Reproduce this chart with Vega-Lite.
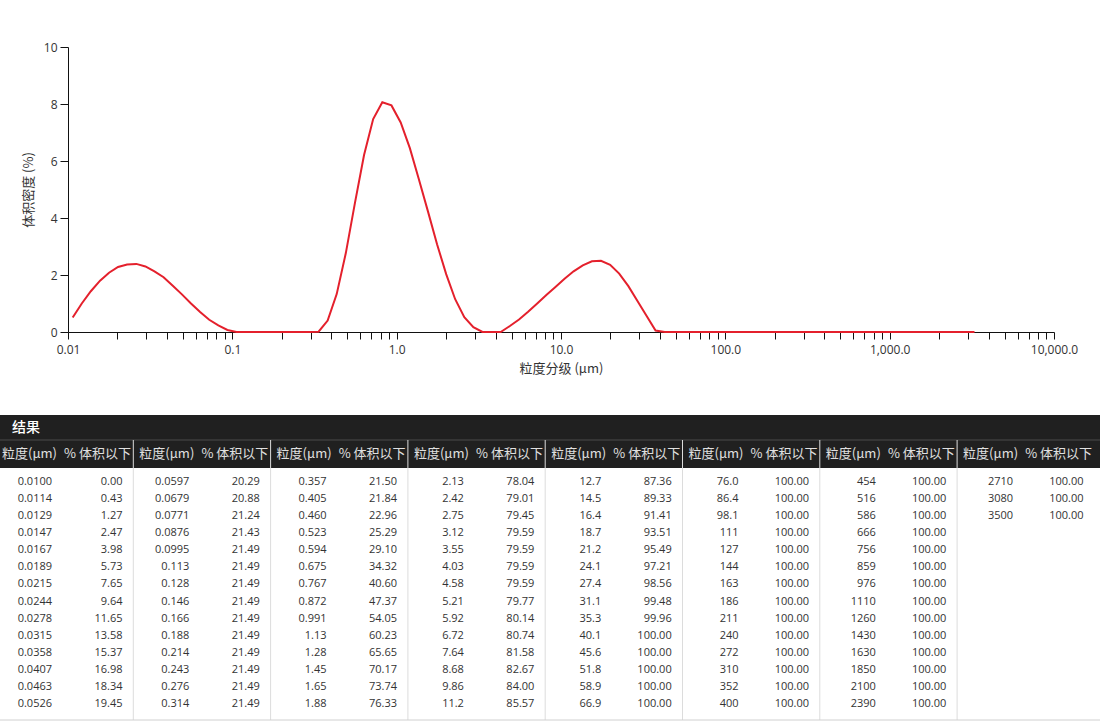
{
  "$schema": "https://vega.github.io/schema/vega-lite/v6.json",
  "width": 1100,
  "height": 722,
  "padding": 0,
  "autosize": {"type": "none"},
  "background": "#ffffff",
  "config": {"view": {"stroke": null}, "axis": {"grid": false}},
  "datasets": {
    "dens": [
      {"d": 0.01068, "v": 0.51}, {"d": 0.01213, "v": 1.00}, {"d": 0.01377, "v": 1.43}, {"d": 0.01567, "v": 1.80},
      {"d": 0.01777, "v": 2.08}, {"d": 0.02016, "v": 2.28}, {"d": 0.02290, "v": 2.37}, {"d": 0.02605, "v": 2.39},
      {"d": 0.02959, "v": 2.30}, {"d": 0.03358, "v": 2.13}, {"d": 0.03817, "v": 1.92}, {"d": 0.04341, "v": 1.62},
      {"d": 0.04935, "v": 1.32}, {"d": 0.05604, "v": 1.00}, {"d": 0.06367, "v": 0.70}, {"d": 0.07235, "v": 0.43},
      {"d": 0.08218, "v": 0.23}, {"d": 0.09336, "v": 0.07}, {"d": 0.1060, "v": 0}, {"d": 0.1203, "v": 0},
      {"d": 0.1367, "v": 0}, {"d": 0.1557, "v": 0}, {"d": 0.1767, "v": 0}, {"d": 0.2006, "v": 0},
      {"d": 0.2280, "v": 0}, {"d": 0.2590, "v": 0}, {"d": 0.2944, "v": 0}, {"d": 0.3348, "v": 0.01},
      {"d": 0.3802, "v": 0.40}, {"d": 0.4316, "v": 1.33}, {"d": 0.4905, "v": 2.77}, {"d": 0.5574, "v": 4.53},
      {"d": 0.6332, "v": 6.21}, {"d": 0.7195, "v": 7.47}, {"d": 0.8178, "v": 8.06}, {"d": 0.9296, "v": 7.95},
      {"d": 1.058, "v": 7.35}, {"d": 1.203, "v": 6.45}, {"d": 1.362, "v": 5.38}, {"d": 1.547, "v": 4.25},
      {"d": 1.761, "v": 3.08}, {"d": 2.001, "v": 2.03}, {"d": 2.270, "v": 1.15}, {"d": 2.580, "v": 0.52},
      {"d": 2.929, "v": 0.17}, {"d": 3.328, "v": 0}, {"d": 3.782, "v": 0}, {"d": 4.296, "v": 0},
      {"d": 4.885, "v": 0.21}, {"d": 5.554, "v": 0.44}, {"d": 6.307, "v": 0.71}, {"d": 7.165, "v": 1.00},
      {"d": 8.143, "v": 1.30}, {"d": 9.251, "v": 1.58}, {"d": 10.51, "v": 1.87}, {"d": 11.93, "v": 2.13},
      {"d": 13.57, "v": 2.34}, {"d": 15.42, "v": 2.48}, {"d": 17.51, "v": 2.50}, {"d": 19.91, "v": 2.36},
      {"d": 22.60, "v": 2.05}, {"d": 25.70, "v": 1.61}, {"d": 29.19, "v": 1.09}, {"d": 33.13, "v": 0.57},
      {"d": 37.62, "v": 0.05}, {"d": 42.76, "v": 0}, {"d": 48.60, "v": 0}, {"d": 55.24, "v": 0},
      {"d": 62.77, "v": 0}, {"d": 71.31, "v": 0}, {"d": 81.03, "v": 0}, {"d": 92.06, "v": 0},
      {"d": 104.3, "v": 0}, {"d": 118.7, "v": 0}, {"d": 135.2, "v": 0}, {"d": 153.2, "v": 0},
      {"d": 174.1, "v": 0}, {"d": 198.1, "v": 0}, {"d": 225.0, "v": 0}, {"d": 255.5, "v": 0},
      {"d": 290.4, "v": 0}, {"d": 330.3, "v": 0}, {"d": 375.2, "v": 0}, {"d": 426.1, "v": 0},
      {"d": 484.0, "v": 0}, {"d": 549.9, "v": 0}, {"d": 624.7, "v": 0}, {"d": 709.6, "v": 0},
      {"d": 805.9, "v": 0}, {"d": 915.6, "v": 0}, {"d": 1041, "v": 0}, {"d": 1183, "v": 0},
      {"d": 1342, "v": 0}, {"d": 1527, "v": 0}, {"d": 1737, "v": 0}, {"d": 1971, "v": 0},
      {"d": 2240, "v": 0}, {"d": 2545, "v": 0}, {"d": 2889, "v": 0}, {"d": 3283, "v": 0}
    ],
    "tbl": [
      {"g": 0, "r": 0, "s": "0.0100", "p": "0.00"}, {"g": 0, "r": 1, "s": "0.0114", "p": "0.43"},
      {"g": 0, "r": 2, "s": "0.0129", "p": "1.27"}, {"g": 0, "r": 3, "s": "0.0147", "p": "2.47"},
      {"g": 0, "r": 4, "s": "0.0167", "p": "3.98"}, {"g": 0, "r": 5, "s": "0.0189", "p": "5.73"},
      {"g": 0, "r": 6, "s": "0.0215", "p": "7.65"}, {"g": 0, "r": 7, "s": "0.0244", "p": "9.64"},
      {"g": 0, "r": 8, "s": "0.0278", "p": "11.65"}, {"g": 0, "r": 9, "s": "0.0315", "p": "13.58"},
      {"g": 0, "r": 10, "s": "0.0358", "p": "15.37"}, {"g": 0, "r": 11, "s": "0.0407", "p": "16.98"},
      {"g": 0, "r": 12, "s": "0.0463", "p": "18.34"}, {"g": 0, "r": 13, "s": "0.0526", "p": "19.45"},
      {"g": 1, "r": 0, "s": "0.0597", "p": "20.29"}, {"g": 1, "r": 1, "s": "0.0679", "p": "20.88"},
      {"g": 1, "r": 2, "s": "0.0771", "p": "21.24"}, {"g": 1, "r": 3, "s": "0.0876", "p": "21.43"},
      {"g": 1, "r": 4, "s": "0.0995", "p": "21.49"}, {"g": 1, "r": 5, "s": "0.113", "p": "21.49"},
      {"g": 1, "r": 6, "s": "0.128", "p": "21.49"}, {"g": 1, "r": 7, "s": "0.146", "p": "21.49"},
      {"g": 1, "r": 8, "s": "0.166", "p": "21.49"}, {"g": 1, "r": 9, "s": "0.188", "p": "21.49"},
      {"g": 1, "r": 10, "s": "0.214", "p": "21.49"}, {"g": 1, "r": 11, "s": "0.243", "p": "21.49"},
      {"g": 1, "r": 12, "s": "0.276", "p": "21.49"}, {"g": 1, "r": 13, "s": "0.314", "p": "21.49"},
      {"g": 2, "r": 0, "s": "0.357", "p": "21.50"}, {"g": 2, "r": 1, "s": "0.405", "p": "21.84"},
      {"g": 2, "r": 2, "s": "0.460", "p": "22.96"}, {"g": 2, "r": 3, "s": "0.523", "p": "25.29"},
      {"g": 2, "r": 4, "s": "0.594", "p": "29.10"}, {"g": 2, "r": 5, "s": "0.675", "p": "34.32"},
      {"g": 2, "r": 6, "s": "0.767", "p": "40.60"}, {"g": 2, "r": 7, "s": "0.872", "p": "47.37"},
      {"g": 2, "r": 8, "s": "0.991", "p": "54.05"}, {"g": 2, "r": 9, "s": "1.13", "p": "60.23"},
      {"g": 2, "r": 10, "s": "1.28", "p": "65.65"}, {"g": 2, "r": 11, "s": "1.45", "p": "70.17"},
      {"g": 2, "r": 12, "s": "1.65", "p": "73.74"}, {"g": 2, "r": 13, "s": "1.88", "p": "76.33"},
      {"g": 3, "r": 0, "s": "2.13", "p": "78.04"}, {"g": 3, "r": 1, "s": "2.42", "p": "79.01"},
      {"g": 3, "r": 2, "s": "2.75", "p": "79.45"}, {"g": 3, "r": 3, "s": "3.12", "p": "79.59"},
      {"g": 3, "r": 4, "s": "3.55", "p": "79.59"}, {"g": 3, "r": 5, "s": "4.03", "p": "79.59"},
      {"g": 3, "r": 6, "s": "4.58", "p": "79.59"}, {"g": 3, "r": 7, "s": "5.21", "p": "79.77"},
      {"g": 3, "r": 8, "s": "5.92", "p": "80.14"}, {"g": 3, "r": 9, "s": "6.72", "p": "80.74"},
      {"g": 3, "r": 10, "s": "7.64", "p": "81.58"}, {"g": 3, "r": 11, "s": "8.68", "p": "82.67"},
      {"g": 3, "r": 12, "s": "9.86", "p": "84.00"}, {"g": 3, "r": 13, "s": "11.2", "p": "85.57"},
      {"g": 4, "r": 0, "s": "12.7", "p": "87.36"}, {"g": 4, "r": 1, "s": "14.5", "p": "89.33"},
      {"g": 4, "r": 2, "s": "16.4", "p": "91.41"}, {"g": 4, "r": 3, "s": "18.7", "p": "93.51"},
      {"g": 4, "r": 4, "s": "21.2", "p": "95.49"}, {"g": 4, "r": 5, "s": "24.1", "p": "97.21"},
      {"g": 4, "r": 6, "s": "27.4", "p": "98.56"}, {"g": 4, "r": 7, "s": "31.1", "p": "99.48"},
      {"g": 4, "r": 8, "s": "35.3", "p": "99.96"}, {"g": 4, "r": 9, "s": "40.1", "p": "100.00"},
      {"g": 4, "r": 10, "s": "45.6", "p": "100.00"}, {"g": 4, "r": 11, "s": "51.8", "p": "100.00"},
      {"g": 4, "r": 12, "s": "58.9", "p": "100.00"}, {"g": 4, "r": 13, "s": "66.9", "p": "100.00"},
      {"g": 5, "r": 0, "s": "76.0", "p": "100.00"}, {"g": 5, "r": 1, "s": "86.4", "p": "100.00"},
      {"g": 5, "r": 2, "s": "98.1", "p": "100.00"}, {"g": 5, "r": 3, "s": "111", "p": "100.00"},
      {"g": 5, "r": 4, "s": "127", "p": "100.00"}, {"g": 5, "r": 5, "s": "144", "p": "100.00"},
      {"g": 5, "r": 6, "s": "163", "p": "100.00"}, {"g": 5, "r": 7, "s": "186", "p": "100.00"},
      {"g": 5, "r": 8, "s": "211", "p": "100.00"}, {"g": 5, "r": 9, "s": "240", "p": "100.00"},
      {"g": 5, "r": 10, "s": "272", "p": "100.00"}, {"g": 5, "r": 11, "s": "310", "p": "100.00"},
      {"g": 5, "r": 12, "s": "352", "p": "100.00"}, {"g": 5, "r": 13, "s": "400", "p": "100.00"},
      {"g": 6, "r": 0, "s": "454", "p": "100.00"}, {"g": 6, "r": 1, "s": "516", "p": "100.00"},
      {"g": 6, "r": 2, "s": "586", "p": "100.00"}, {"g": 6, "r": 3, "s": "666", "p": "100.00"},
      {"g": 6, "r": 4, "s": "756", "p": "100.00"}, {"g": 6, "r": 5, "s": "859", "p": "100.00"},
      {"g": 6, "r": 6, "s": "976", "p": "100.00"}, {"g": 6, "r": 7, "s": "1110", "p": "100.00"},
      {"g": 6, "r": 8, "s": "1260", "p": "100.00"}, {"g": 6, "r": 9, "s": "1430", "p": "100.00"},
      {"g": 6, "r": 10, "s": "1630", "p": "100.00"}, {"g": 6, "r": 11, "s": "1850", "p": "100.00"},
      {"g": 6, "r": 12, "s": "2100", "p": "100.00"}, {"g": 6, "r": 13, "s": "2390", "p": "100.00"},
      {"g": 7, "r": 0, "s": "2710", "p": "100.00"}, {"g": 7, "r": 1, "s": "3080", "p": "100.00"},
      {"g": 7, "r": 2, "s": "3500", "p": "100.00"}
    ],
    "grp": [{"g": 0}, {"g": 1}, {"g": 2}, {"g": 3}, {"g": 4}, {"g": 5}, {"g": 6}, {"g": 7}],
    "sep": [{"g": 1}, {"g": 2}, {"g": 3}, {"g": 4}, {"g": 5}, {"g": 6}, {"g": 7}],
    "one": [{"t": "结果"}]
  },
  "layer": [
    {
      "data": {"name": "dens"},
      "mark": {"type": "line", "color": "#e4202c", "strokeWidth": 2},
      "encoding": {
        "x": {
          "field": "d", "type": "quantitative",
          "scale": {"type": "log", "domain": [0.01, 10000], "range": [68, 1054], "nice": false},
          "axis": {
            "orient": "bottom", "offset": -390,
            "values": [0.01, 0.02, 0.03, 0.04, 0.05, 0.06, 0.07, 0.08, 0.09,
                       0.1, 0.2, 0.3, 0.4, 0.5, 0.6, 0.7, 0.8, 0.9,
                       1, 2, 3, 4, 5, 6, 7, 8, 9,
                       10, 20, 30, 40, 50, 60, 70, 80, 90,
                       100, 200, 300, 400, 500, 600, 700, 800, 900,
                       1000, 2000, 3000, 4000, 5000, 6000, 7000, 8000, 9000, 10000],
            "labelExpr": "abs(log(datum.value)/LN10 - round(log(datum.value)/LN10)) < 0.001 ? (datum.value < 0.05 ? '0.01' : format(datum.value, ',.1f')) : ''",
            "labelFlush": false, "labelOverlap": false, "labelBound": false,
            "tickSize": 7, "tickColor": "#111", "domainColor": "#111",
            "labelColor": "#333", "labelFont": "Open Sans", "labelFontSize": 12, "labelPadding": 5,
            "title": "粒度分级 (μm)", "titleFont": "Noto Sans CJK SC", "titleFontSize": 13,
            "titleFontWeight": "normal", "titleColor": "#333", "titlePadding": 7
          }
        },
        "y": {
          "field": "v", "type": "quantitative",
          "scale": {"domain": [0, 10], "range": [332, 47], "nice": false, "zero": false},
          "axis": {
            "orient": "left", "offset": -68,
            "values": [0, 2, 4, 6, 8, 10],
            "labelFlush": false, "labelOverlap": false,
            "tickSize": 8, "tickColor": "#111", "domainColor": "#111",
            "labelColor": "#333", "labelFont": "Open Sans", "labelFontSize": 12, "labelPadding": 3,
            "title": "体积密度 (%)", "titleFont": "Noto Sans CJK SC", "titleFontSize": 13,
            "titleFontWeight": "normal", "titleColor": "#333", "titlePadding": 8
          }
        }
      }
    },
    {
      "layer": [
        {
          "data": {"name": "one"},
          "mark": {"type": "rect", "color": "#202020"},
          "encoding": {
            "x": {"datum": -0.1, "type": "quantitative", "scale": {"domain": [0, 8], "range": [-4, 1094.4]}, "axis": null},
            "x2": {"datum": 8.2},
            "y": {"datum": -3.923, "type": "quantitative", "scale": {"domain": [0, 13], "range": [482, 704]}, "axis": null},
            "y2": {"datum": -0.82}
          }
        },
        {
          "data": {"name": "one"},
          "mark": {"type": "rule", "color": "#4a4a4a", "strokeWidth": 1},
          "encoding": {
            "x": {"datum": -0.1, "type": "quantitative", "scale": {"domain": [0, 8], "range": [-4, 1094.4]}, "axis": null},
            "x2": {"datum": 8.2},
            "y": {"datum": -2.459, "type": "quantitative", "scale": {"domain": [0, 13], "range": [482, 704]}, "axis": null}
          }
        },
        {
          "data": {"name": "sep"},
          "mark": {"type": "rule", "color": "#dcdcdc", "strokeWidth": 1},
          "encoding": {
            "x": {"field": "g", "type": "quantitative", "scale": {"domain": [0, 8], "range": [-4, 1094.4]}, "axis": null},
            "y": {"datum": -2.459, "type": "quantitative", "scale": {"domain": [0, 13], "range": [482, 704]}, "axis": null},
            "y2": {"datum": 13.937}
          }
        },
        {
          "data": {"name": "one"},
          "mark": {"type": "rule", "color": "#d0d0d0", "strokeWidth": 1},
          "encoding": {
            "x": {"datum": -0.1, "type": "quantitative", "scale": {"domain": [0, 8], "range": [-4, 1094.4]}, "axis": null},
            "x2": {"datum": 8.2},
            "y": {"datum": 13.937, "type": "quantitative", "scale": {"domain": [0, 13], "range": [482, 704]}, "axis": null}
          }
        },
        {
          "data": {"name": "one"},
          "mark": {"type": "text", "align": "left", "baseline": "middle", "font": "Noto Sans CJK SC", "fontSize": 14, "fontWeight": 500, "color": "#ffffff"},
          "encoding": {
            "x": {"datum": 0.117, "type": "quantitative", "scale": {"domain": [0, 8], "range": [-4, 1094.4]}, "axis": null},
            "y": {"datum": -3.162, "type": "quantitative", "scale": {"domain": [0, 13], "range": [482, 704]}, "axis": null},
            "text": {"field": "t"}
          }
        },
        {
          "data": {"name": "grp"},
          "mark": {"type": "text", "align": "left", "baseline": "middle", "dx": 6, "font": "Noto Sans CJK SC", "fontSize": 13, "color": "#e0e0e0"},
          "encoding": {
            "x": {"field": "g", "type": "quantitative", "scale": {"domain": [0, 8], "range": [-4, 1094.4]}, "axis": null},
            "y": {"datum": -1.64, "type": "quantitative", "scale": {"domain": [0, 13], "range": [482, 704]}, "axis": null},
            "text": {"value": "粒度(μm)"}
          }
        },
        {
          "data": {"name": "grp"},
          "mark": {"type": "text", "align": "right", "baseline": "middle", "dx": 135, "font": "Noto Sans CJK SC", "fontSize": 13, "color": "#e0e0e0"},
          "encoding": {
            "x": {"field": "g", "type": "quantitative", "scale": {"domain": [0, 8], "range": [-4, 1094.4]}, "axis": null},
            "y": {"datum": -1.64, "type": "quantitative", "scale": {"domain": [0, 13], "range": [482, 704]}, "axis": null},
            "text": {"value": "% 体积以下"}
          }
        },
        {
          "data": {"name": "tbl"},
          "mark": {"type": "text", "align": "right", "baseline": "middle", "dx": 56, "font": "Open Sans", "fontSize": 11, "color": "#333333"},
          "encoding": {
            "x": {"field": "g", "type": "quantitative", "scale": {"domain": [0, 8], "range": [-4, 1094.4]}, "axis": null},
            "y": {"field": "r", "type": "quantitative", "scale": {"domain": [0, 13], "range": [482, 704]}, "axis": null},
            "text": {"field": "s"}
          }
        },
        {
          "data": {"name": "tbl"},
          "mark": {"type": "text", "align": "right", "baseline": "middle", "dx": 126.5, "font": "Open Sans", "fontSize": 11, "color": "#333333"},
          "encoding": {
            "x": {"field": "g", "type": "quantitative", "scale": {"domain": [0, 8], "range": [-4, 1094.4]}, "axis": null},
            "y": {"field": "r", "type": "quantitative", "scale": {"domain": [0, 13], "range": [482, 704]}, "axis": null},
            "text": {"field": "p"}
          }
        }
      ]
    }
  ],
  "resolve": {"scale": {"x": "independent", "y": "independent"}}
}
